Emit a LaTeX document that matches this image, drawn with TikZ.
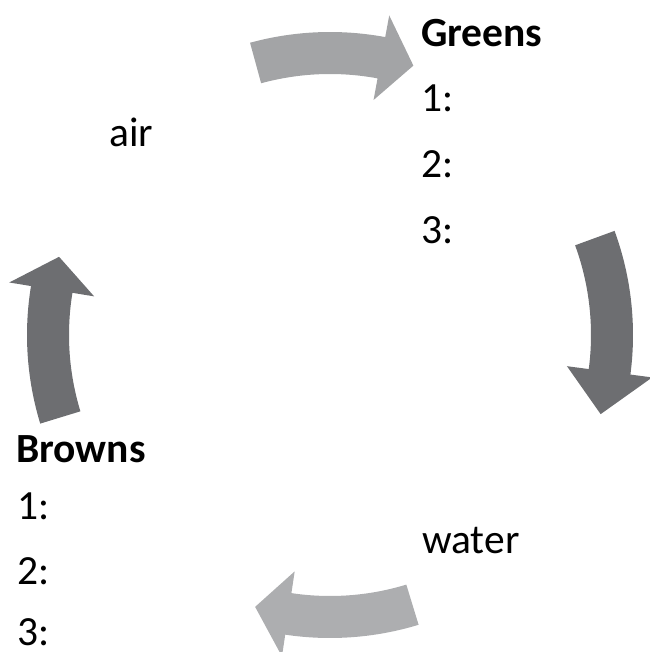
\documentclass[tikz,border=0pt]{standalone}
\usepackage{fontspec}
\setmainfont{Carlito}
\definecolor{lightarrow}{HTML}{A3A4A6}
\definecolor{lightarrowb}{HTML}{ADAEB0}
\definecolor{darkarrow}{HTML}{6D6E71}
\newcommand\cyclearrow[4]{%
  \fill[#4] (#1:303) arc[start angle=#1,end angle=#2,radius=303]
    -- (#2:325) -- (#3:282) -- (#2:239) -- (#2:261)
    arc[start angle=#2,end angle=#1,radius=261] -- cycle;}
\begin{document}
\begin{tikzpicture}[x=1pt,y=1pt,
  lbl/.style={anchor=base west, inner sep=0pt, font=\fontsize{41.5}{48}\selectfont},
  head/.style={lbl, font=\fontsize{41.5}{48}\selectfont\bfseries}]
\path[use as bounding box] (0,0) rectangle (649,-652);
\begin{scope}[shift={(330,-335)}]
  \cyclearrow{105.3}{79.5}{72.8}{lightarrow}
  \cyclearrow{20.1}{-7.5}{-16.3}{darkarrow}
  \cyclearrow{-73}{-98.5}{-105.4}{lightarrowb}
  \cyclearrow{197}{170.7}{163.9}{darkarrow}
\end{scope}
\node[head] (greens) at (421,-47) {Greens};
\node[lbl] (g1) at (421,-112) {1:};
\node[lbl] (g2) at (421,-178) {2:};
\node[lbl] (g3) at (421,-243) {3:};
\node[lbl] (air) at (109,-147) {air};
\node[head] (browns) at (16,-462) {Browns};
\node[lbl] (b1) at (17,-519) {1:};
\node[lbl] (b2) at (17,-584) {2:};
\node[lbl] (b3) at (17,-645) {3:};
\node[lbl] (water) at (422,-553) {water};
\end{tikzpicture}
\end{document}
